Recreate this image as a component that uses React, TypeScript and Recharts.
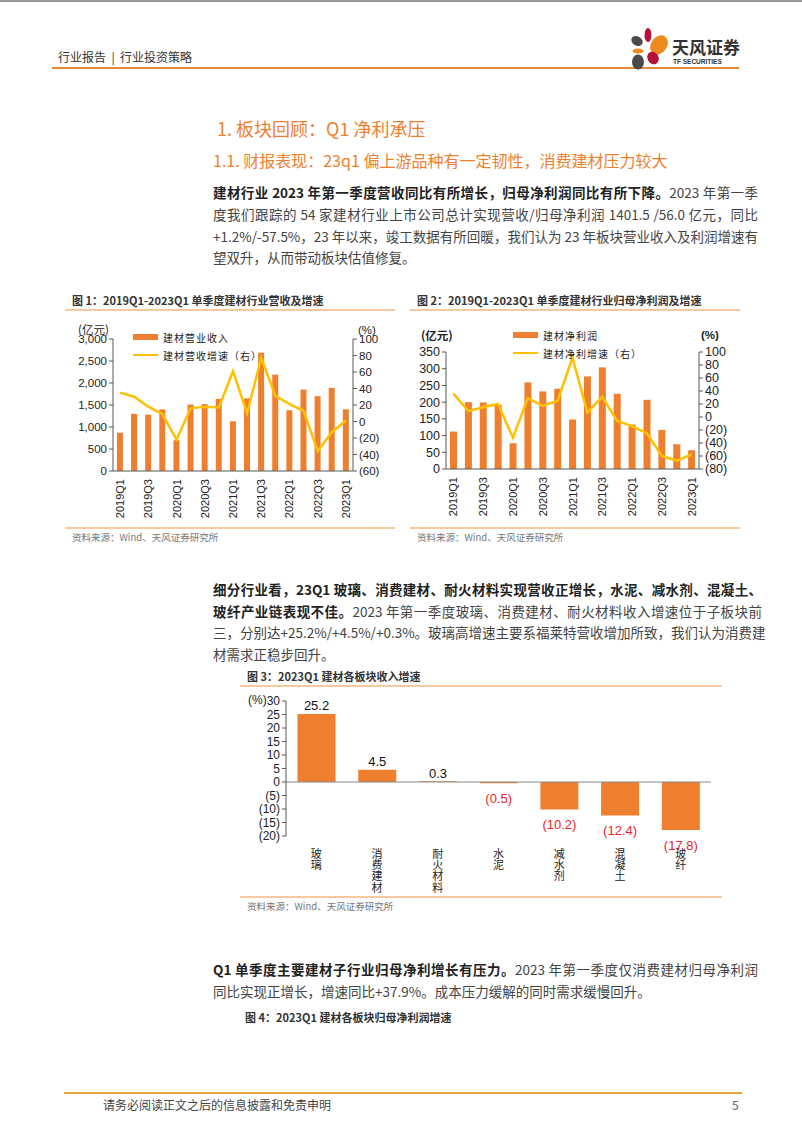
import React from 'react';
import { ComposedChart, BarChart, Bar, Line, XAxis, YAxis, ReferenceLine, LabelList } from 'recharts';

const quarters = ['2019Q1','2019Q2','2019Q3','2019Q4','2020Q1','2020Q2','2020Q3','2020Q4','2021Q1','2021Q2','2021Q3','2021Q4','2022Q1','2022Q2','2022Q3','2022Q4','2023Q1'];
const revenue = [870,1300,1280,1400,700,1510,1520,1640,1130,1650,2690,2190,1380,1850,1700,1890,1401.5];
const revenueGrowth = [35,30,18,9,-22,16,18,17,61,10,77,31,21,13,-36,-13,1.2];
const profit = [112,200,199,192,77,259,232,240,148,277,304,225,133,207,117,74,56.0];
const profitGrowth = [36,9,15,20,-32,29,17,25,91,7,31,-6,-14,-25,-60,-67,-57.5];
const revTicks = [0,500,1000,1500,2000,2500,3000];
const revGrowthTicks = [-60,-40,-20,0,20,40,60,80,100];
const profitTicks = [0,50,100,150,200,250,300,350];
const profitGrowthTicks = [-80,-60,-40,-20,0,20,40,60,80,100];
const segments = ['玻璃','消费建材','耐火材料','水泥','减水剂','混凝土','玻纤'];
const segmentGrowth = [25.2,4.5,0.3,-0.5,-10.2,-12.4,-17.8];
const segmentTicks = [-20,-15,-10,-5,0,5,10,15,20,25,30];

const revData = quarters.map((q, i) => ({ q, v: revenue[i], g: revenueGrowth[i] }));
const profitData = quarters.map((q, i) => ({ q, v: profit[i], g: profitGrowth[i] }));
const segData = segments.map((s, i) => ({ s, v: segmentGrowth[i] }));

const ORANGE = '#EE7F2E';
const YELLOW = '#FFC000';
const AXIS = '#595959';
const NUMF = '"Liberation Sans", Arial, sans-serif';
const CJK = '"Noto Sans CJK SC", "Noto Sans", sans-serif';

const paren = (v: number) => (v < 0 ? `(${Math.abs(v)})` : `${v}`);
const comma = (v: number) => v.toLocaleString('en-US');

const RotTick = (props: any) => {
  const { x, y, payload } = props;
  return (
    <text x={x} y={y + 2} transform={`rotate(-90, ${x}, ${y + 2})`} textAnchor="end" dominantBaseline="central"
      fontSize={11} fill="#222" fontFamily={NUMF}>{payload.value}</text>
  );
};

const VertTick = (props: any) => {
  const { x, y, payload } = props;
  const chars = String(payload.value).split('');
  return (
    <text x={x} y={y} textAnchor="middle" fontSize={11} fill="#222" fontFamily={CJK}>
      {chars.map((c, i) => (
        <tspan key={i} x={x} dy={i === 0 ? 20 : 11.2}>{c}</tspan>
      ))}
    </text>
  );
};

const SegLabel = (props: any) => {
  const { x, y, width, height, value } = props;
  const top = Math.min(y, y + height);
  const bottom = Math.max(y, y + height);
  const cx = x + width / 2;
  if (value >= 0) {
    return <text x={cx} y={top - 8} textAnchor="middle" dominantBaseline="central" fontSize={13} fill="#111" fontFamily={NUMF}>{paren(value)}</text>;
  }
  return <text x={cx} y={bottom + 15} textAnchor="middle" dominantBaseline="central" fontSize={13} fill="#E8232B" fontFamily={NUMF}>{paren(value)}</text>;
};

const LegendBox = ({ barName, lineName, left, top }: any) => (
  <div style={{ position: 'absolute', left, top, fontFamily: CJK, fontSize: 10, color: '#222', letterSpacing: 1 }}>
    <div style={{ display: 'flex', alignItems: 'center', height: 18 }}>
      <span style={{ display: 'inline-block', width: 25, height: 6, background: ORANGE, marginRight: 5 }} />
      {barName}
    </div>
    <div style={{ display: 'flex', alignItems: 'center', height: 18 }}>
      <span style={{ display: 'inline-block', width: 25, height: 2, background: YELLOW, marginRight: 5 }} />
      {lineName}
    </div>
  </div>
);

const Abs = ({ left, top, children, style }: any) => (
  <div style={{ position: 'absolute', left, top, whiteSpace: 'nowrap', ...style }}>{children}</div>
);

const JLine = ({ top, left = 213, width = 545, last = false, children }: any) => (
  <div style={{ position: 'absolute', left, top, width, height: 22, lineHeight: '22px', fontSize: 13.5, fontFamily: CJK, color: '#444',
    textAlign: last ? 'left' : 'justify', textAlignLast: last ? 'left' : 'justify', whiteSpace: 'nowrap' } as any}>{children}</div>
);

const B = ({ children }: any) => <b style={{ color: '#222', fontWeight: 700 }}>{children}</b>;

const ChartFrame = ({ left, top, width, title, bottom }: any) => (
  <>
    <Abs left={left + 7} top={top - 8} style={{ fontFamily: CJK, fontSize: 11, fontWeight: 700, color: '#333', lineHeight: '16px' }}>{title}</Abs>
    <div style={{ position: 'absolute', left, top: top + 9, width, height: 1.5, background: '#F6C9A0' }} />
    <div style={{ position: 'absolute', left, top: bottom, width, height: 1.5, background: '#F6C9A0' }} />
    <Abs left={left + 7} top={bottom + 3} style={{ fontFamily: CJK, fontSize: 9.5, color: '#777', lineHeight: '14px' }}>资料来源：Wind、天风证券研究所</Abs>
  </>
);

export default function App() {
  return (
    <div style={{ position: 'absolute', left: 0, top: 0, width: 802, height: 1133, background: '#fff', overflow: 'hidden', fontFamily: CJK }}>
      {/* header */}
      <div style={{ position: 'absolute', left: 0, top: 0, width: 802, height: 2, background: '#9a9a9a' }} />
      <Abs left={58} top={48} style={{ fontSize: 12, color: '#333', lineHeight: '18px', whiteSpace: 'pre' }}>行业报告  |  行业投资策略</Abs>
      <div style={{ position: 'absolute', left: 52, top: 67, width: 687, height: 2, background: '#E8893A' }} />
      <svg style={{ position: 'absolute', left: 628, top: 24 }} width={40} height={48}>
        <ellipse cx={20} cy={11} rx={3.5} ry={7} fill="#B5123A" />
        <ellipse cx={9} cy={17} rx={6} ry={4.5} fill="#4A4A4A" transform="rotate(30 9 17)" />
        <ellipse cx={31} cy={21} rx={8} ry={10.5} fill="#EE8A1E" transform="rotate(35 31 21)" />
        <ellipse cx={10} cy={27} rx={5.5} ry={2.5} fill="#EE8A1E" />
        <ellipse cx={10} cy={38} rx={6} ry={7.5} fill="#4A4A4A" />
        <ellipse cx={25} cy={34} rx={5.5} ry={6.5} fill="#B5123A" transform="rotate(-30 25 34)" />
      </svg>
      <Abs left={672} top={37} style={{ fontSize: 17, fontWeight: 700, color: '#333', lineHeight: '20px' }}>天风证券</Abs>
      <Abs left={673} top={57} style={{ fontSize: 6.5, fontWeight: 700, color: '#333', lineHeight: '9px', fontFamily: NUMF }}>TF SECURITIES</Abs>

      {/* headings */}
      <Abs left={217} top={116} style={{ fontSize: 18, color: '#EE7F2E', lineHeight: '24px' }}>1. 板块回顾：Q1 净利承压</Abs>
      <Abs left={213} top={149} style={{ fontSize: 16, color: '#EE7F2E', lineHeight: '22px' }}>1.1. 财报表现：23q1 偏上游品种有一定韧性，消费建材压力较大</Abs>

      <JLine top={181}><B>建材行业 2023 年第一季度营收同比有所增长，归母净利润同比有所下降。</B>2023 年第一季</JLine>
      <JLine top={203}>度我们跟踪的 54 家建材行业上市公司总计实现营收/归母净利润 1401.5 /56.0 亿元，同比</JLine>
      <JLine top={225}>+1.2%/-57.5%，23 年以来，竣工数据有所回暖，我们认为 23 年板块营业收入及利润增速有</JLine>
      <JLine top={246} last>望双升，从而带动板块估值修复。</JLine>

      {/* chart 1 */}
      <ChartFrame left={65} top={300} width={330} bottom={527} title="图 1：2019Q1-2023Q1 单季度建材行业营收及增速" />
      <Abs left={78} top={321} style={{ fontSize: 11.5, color: '#222', lineHeight: '16px' }}>(亿元)</Abs>
      <Abs left={358} top={322} style={{ fontSize: 11.5, color: '#222', lineHeight: '16px', fontFamily: NUMF }}>(%)</Abs>
      <div style={{ position: 'absolute', left: 60, top: 320 }}>
        <ComposedChart width={340} height={205} data={revData} margin={{ top: 19, right: 7, bottom: 4, left: 0 }} barCategoryGap="28%">
          <XAxis dataKey="q" interval={1} tick={<RotTick />} tickLine={false} axisLine={{ stroke: AXIS }} height={50} tickSize={4} />
          <YAxis yAxisId="l" width={53} domain={[0, 3000]} ticks={revTicks} tickFormatter={comma} interval={0}
            tick={{ fontSize: 11.5, fill: '#222', fontFamily: NUMF }} axisLine={{ stroke: AXIS }} tickLine={{ stroke: AXIS }} tickSize={4} />
          <YAxis yAxisId="r" orientation="right" width={40} domain={[-60, 100]} ticks={revGrowthTicks} tickFormatter={paren} interval={0}
            tick={{ fontSize: 11.5, fill: '#222', fontFamily: NUMF }} axisLine={{ stroke: AXIS }} tickLine={{ stroke: AXIS }} tickSize={4} />
          <Bar yAxisId="l" dataKey="v" name="建材营业收入" fill={ORANGE} isAnimationActive={false} />
          <Line yAxisId="r" dataKey="g" name="建材营收增速（右）" stroke={YELLOW} strokeWidth={2.5} dot={false} isAnimationActive={false} />
        </ComposedChart>
      </div>
      <LegendBox left={133} top={328} barName="建材营业收入" lineName="建材营收增速（右）" />

      {/* chart 2 */}
      <ChartFrame left={410} top={300} width={330} bottom={527} title="图 2：2019Q1-2023Q1 单季度建材行业归母净利润及增速" />
      <Abs left={421} top={327} style={{ fontSize: 11.5, color: '#222', lineHeight: '16px', fontWeight: 700 }}>(亿元)</Abs>
      <Abs left={701} top={327} style={{ fontSize: 11.5, color: '#222', lineHeight: '16px', fontFamily: NUMF, fontWeight: 700 }}>(%)</Abs>
      <div style={{ position: 'absolute', left: 410, top: 320 }}>
        <ComposedChart width={330} height={205} data={profitData} margin={{ top: 32, right: 3, bottom: 4, left: 0 }} barCategoryGap="27%">
          <XAxis dataKey="q" interval={1} tick={<RotTick />} tickLine={false} axisLine={{ stroke: AXIS }} height={52} tickSize={4} />
          <YAxis yAxisId="l" width={36} domain={[0, 350]} ticks={profitTicks} interval={0}
            tick={{ fontSize: 12.5, fill: '#222', fontFamily: NUMF }} axisLine={{ stroke: AXIS }} tickLine={{ stroke: AXIS }} tickSize={4} />
          <YAxis yAxisId="r" orientation="right" width={38} domain={[-80, 100]} ticks={profitGrowthTicks} tickFormatter={paren} interval={0}
            tick={{ fontSize: 12.5, fill: '#222', fontFamily: NUMF }} axisLine={{ stroke: AXIS }} tickLine={{ stroke: AXIS }} tickSize={4} />
          <Bar yAxisId="l" dataKey="v" name="建材净利润" fill={ORANGE} isAnimationActive={false} />
          <Line yAxisId="r" dataKey="g" name="建材净利增速（右）" stroke={YELLOW} strokeWidth={2.5} dot={false} isAnimationActive={false} />
        </ComposedChart>
      </div>
      <LegendBox left={513} top={326} barName="建材净利润" lineName="建材净利增速（右）" />

      {/* paragraph 2 */}
      <JLine top={578} width={549}><B>细分行业看，23Q1 玻璃、消费建材、耐火材料实现营收正增长，水泥、减水剂、混凝土、</B></JLine>
      <JLine top={600} width={549}><B>玻纤产业链表现不佳。</B>2023 年第一季度玻璃、消费建材、耐火材料收入增速位于子板块前</JLine>
      <JLine top={621} width={549}>三，分别达+25.2%/+4.5%/+0.3%。玻璃高增速主要系福莱特营收增加所致，我们认为消费建</JLine>
      <JLine top={643} width={549} last>材需求正稳步回升。</JLine>

      {/* chart 3 */}
      <ChartFrame left={240} top={676} width={482} bottom={896} title="图 3：2023Q1 建材各板块收入增速" />
      <Abs left={248} top={692} style={{ fontSize: 12, color: '#222', lineHeight: '16px', fontFamily: NUMF }}>(%)</Abs>
      <div style={{ position: 'absolute', left: 235, top: 690 }}>
        <BarChart width={485} height={204} data={segData} margin={{ top: 11, right: 9, bottom: 0, left: 0 }} barCategoryGap="19%">
          <XAxis dataKey="s" interval={0} tick={<VertTick />} tickLine={false} axisLine={false} height={58} tickSize={0} />
          <YAxis width={51} domain={[-20, 30]} ticks={segmentTicks} tickFormatter={paren} interval={0}
            tick={{ fontSize: 12, fill: '#222', fontFamily: NUMF }} axisLine={{ stroke: AXIS }} tickLine={{ stroke: AXIS }} tickSize={4} />
          <ReferenceLine y={0} stroke="#8a8a8a" strokeWidth={1} />
          <Bar dataKey="v" fill={ORANGE} isAnimationActive={false}>
            <LabelList dataKey="v" content={<SegLabel />} />
          </Bar>
        </BarChart>
      </div>

      {/* paragraph 3 */}
      <JLine top={958}><B>Q1 单季度主要建材子行业归母净利增长有压力。</B>2023 年第一季度仅消费建材归母净利润</JLine>
      <JLine top={980} last>同比实现正增长，增速同比+37.9%。成本压力缓解的同时需求缓慢回升。</JLine>
      <Abs left={245} top={1009} style={{ fontSize: 11, fontWeight: 700, color: '#333', lineHeight: '16px' }}>图 4：2023Q1 建材各板块归母净利润增速</Abs>

      {/* footer */}
      <div style={{ position: 'absolute', left: 64, top: 1092, width: 678, height: 2, background: '#E8A040' }} />
      <Abs left={103} top={1097} style={{ fontSize: 12, color: '#444', lineHeight: '16px' }}>请务必阅读正文之后的信息披露和免责申明</Abs>
      <Abs left={732} top={1097} style={{ fontSize: 12, color: '#666', lineHeight: '16px' }}>5</Abs>
    </div>
  );
}
